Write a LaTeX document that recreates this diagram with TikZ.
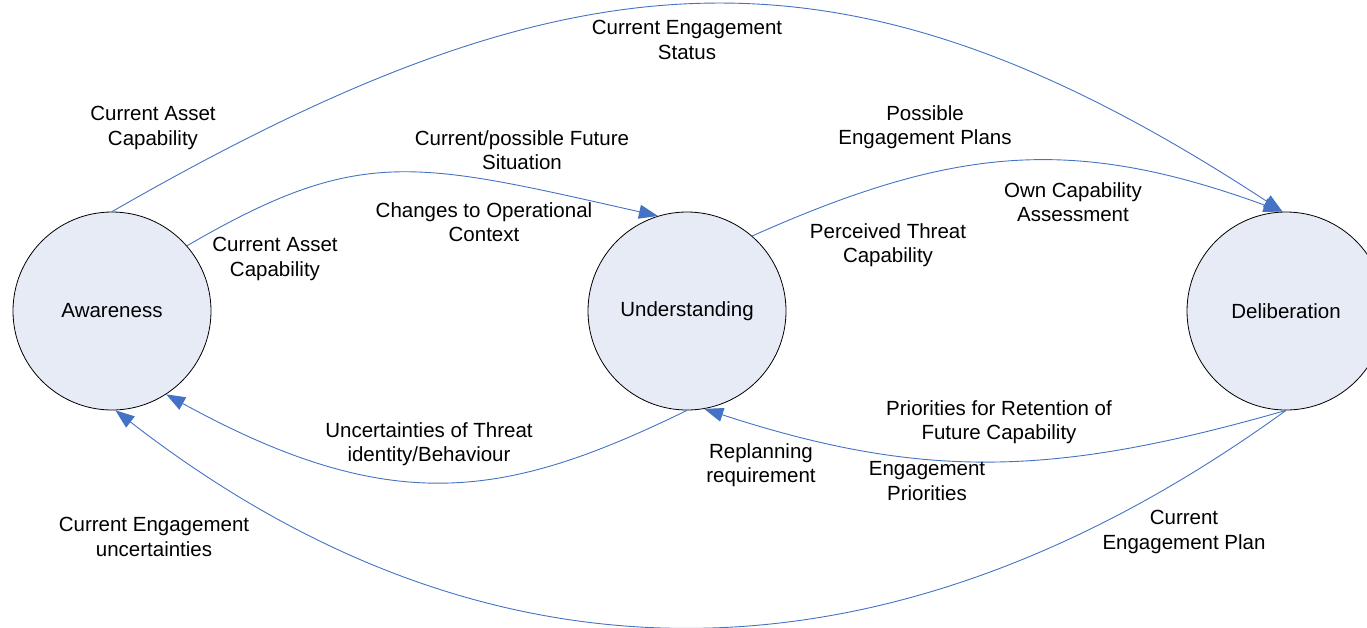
\documentclass[tikz,border=0pt]{standalone}
\usepackage{fontspec}
\setmainfont{Liberation Sans}
\usetikzlibrary{arrows.meta}
\definecolor{flowblue}{RGB}{68,114,196}
\definecolor{circfill}{RGB}{231,235,246}

\begin{document}
\begin{tikzpicture}[
    x=1pt, y=-1pt,
    phase/.style={circle, draw=black, line width=0.8pt, fill=circfill,
                  minimum size=198pt, inner sep=0pt,
                  font=\fontsize{20.5}{24.5}\selectfont},
    flow/.style={-{Triangle[length=19pt,width=14pt]}, draw=flowblue, line width=0.9pt},
    lbl/.style={align=center, inner sep=0pt, font=\fontsize{20.5}{24.5}\selectfont}
  ]
    \useasboundingbox (0,0) rectangle (1367,627);

    \node[phase] (aw) at (112,311)  {Awareness};
    \node[phase] (un) at (687,311)  {Understanding};
    \node[phase] (de) at (1286,311) {Deliberation};

    \draw[flow] (aw.north) .. controls (571,-52) and (842,-77) .. (de.92);
    \draw[flow] (aw.41)    .. controls (360,145) and (414,161) .. (un.107);
    \draw[flow] (un.49)    .. controls (956,145) and (1075,136) .. (de.92);
    \draw[flow] (un.south) .. controls (507,498) and (393,519) .. (aw.-57);
    \draw[flow] (de.south) .. controls (1060,475) and (928,482) .. (un.-80);
    \draw[flow] (de.south) .. controls (896,693) and (495,705) .. (aw.-88);

    \node[lbl] (stat)   at (687,40)   {Current Engagement\\Status};
    \node[lbl] (asset1) at (153,128)  {Current Asset\\Capability};
    \node[lbl] (asset2) at (275,259)  {Current Asset\\Capability};
    \node[lbl] (fut)    at (522,150)  {Current/possible Future\\Situation};
    \node[lbl] (ctx)    at (484,222)  {Changes to Operational\\Context};
    \node[lbl] (plans)  at (925,127)  {Possible\\Engagement Plans};
    \node[lbl] (own)    at (1073,202) {Own Capability\\Assessment};
    \node[lbl] (threat) at (888,245)  {Perceived Threat\\Capability};
    \node[lbl] (unc)    at (429,444)  {Uncertainties of Threat\\identity/Behaviour};
    \node[lbl] (ret)    at (999,422)  {Priorities for Retention of\\Future Capability};
    \node[lbl] (repl)   at (761,465)  {Replanning\\requirement};
    \node[lbl] (prio)   at (927,481)  {Engagement\\Priorities};
    \node[lbl] (uneng)  at (154,537)  {Current Engagement\\uncertainties};
    \node[lbl] (plan)   at (1184,532) {Current\\Engagement Plan};
  \end{tikzpicture}
\end{document}
